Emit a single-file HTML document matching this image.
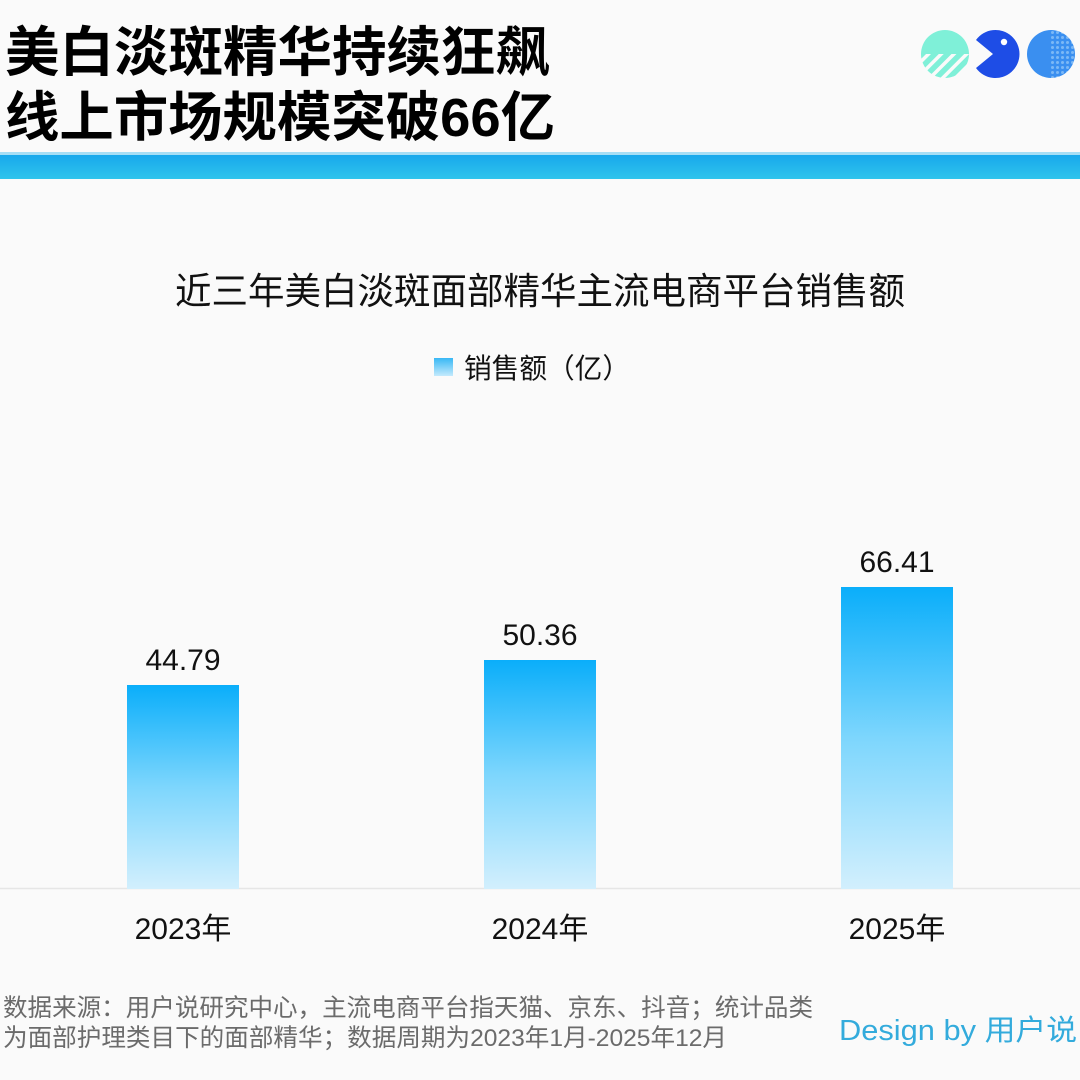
<!DOCTYPE html>
<html>
<head>
<meta charset="utf-8">
<style>
  html,body{margin:0;padding:0;background:#fafafa;}
  svg{display:block;}
  text{font-family:"Liberation Sans","Noto Sans CJK SC",sans-serif;}
</style>
</head>
<body>
<svg width="1080" height="1080" viewBox="0 0 1080 1080" xmlns="http://www.w3.org/2000/svg">
  <defs>
    <linearGradient id="bar" x1="0" y1="0" x2="0" y2="1">
      <stop offset="0" stop-color="#0aaefa"/>
      <stop offset="0.5" stop-color="#7dd6fd"/>
      <stop offset="1" stop-color="#d2effd"/>
    </linearGradient>
    <linearGradient id="leg" x1="0" y1="0" x2="0" y2="1">
      <stop offset="0" stop-color="#38b8f5"/>
      <stop offset="1" stop-color="#c4eafc"/>
    </linearGradient>
    <linearGradient id="band" x1="0" y1="0" x2="0" y2="1">
      <stop offset="0" stop-color="#17a8ec"/>
      <stop offset="1" stop-color="#2fc4ec"/>
    </linearGradient>
    <pattern id="stripes" width="9" height="9" patternUnits="userSpaceOnUse" patternTransform="rotate(45)">
      <rect width="9" height="9" fill="#7ff0d8"/>
      <rect x="0" y="0" width="3.5" height="9" fill="#fafafa"/>
    </pattern>
    <pattern id="dots" width="5" height="5" patternUnits="userSpaceOnUse">
      <rect width="5" height="5" fill="#3a8ff0"/>
      <circle cx="2.5" cy="2.5" r="1.5" fill="#7cb8f6"/>
    </pattern>
    <clipPath id="c1"><circle cx="945" cy="54" r="24"/></clipPath>
    <clipPath id="c3"><circle cx="1051" cy="54" r="24"/></clipPath>
  </defs>

  <rect width="1080" height="1080" fill="#fafafa"/>

  <!-- Header title -->
  <text x="5" y="71" font-size="54" font-weight="bold" fill="#000" textLength="545" lengthAdjust="spacingAndGlyphs">美白淡斑精华持续狂飙</text>
  <text x="5" y="136" font-size="54" font-weight="bold" fill="#000" textLength="550" lengthAdjust="spacingAndGlyphs">线上市场规模突破66亿</text>

  <!-- Icons -->
  <g clip-path="url(#c1)">
    <rect x="920" y="29" width="50" height="25" fill="#7ff0d8"/>
    <rect x="920" y="54" width="50" height="26" fill="url(#stripes)"/>
  </g>
  <path d="M993,54 L976,40 A24,24 0 1,1 976,68 Z" fill="#1e4de6"/>
  <circle cx="1004" cy="42" r="3.2" fill="#fff"/>
  <g clip-path="url(#c3)">
    <rect x="1026" y="29" width="25" height="50" fill="#3a8ff0"/>
    <rect x="1051" y="29" width="26" height="50" fill="url(#dots)"/>
  </g>

  <!-- Band -->
  <rect x="0" y="152" width="1080" height="3" fill="#a6def5"/>
  <rect x="0" y="155" width="1080" height="24" fill="url(#band)"/>

  <!-- Chart title -->
  <text x="175" y="304" font-size="37" fill="#111" textLength="730" lengthAdjust="spacingAndGlyphs">近三年美白淡斑面部精华主流电商平台销售额</text>

  <!-- Legend -->
  <rect x="434" y="358" width="19" height="18" fill="url(#leg)"/>
  <text x="464" y="378" font-size="28" fill="#111" textLength="166" lengthAdjust="spacingAndGlyphs">销售额（亿）</text>

  <!-- Axis line -->
  <line x1="0" y1="888.5" x2="1080" y2="888.5" stroke="#e6e6e6" stroke-width="1.5"/>

  <!-- Bars -->
  <rect x="127" y="685" width="112" height="204" fill="url(#bar)"/>
  <rect x="484" y="660" width="112" height="229" fill="url(#bar)"/>
  <rect x="841" y="587" width="112" height="302" fill="url(#bar)"/>

  <!-- Value labels -->
  <text x="183" y="670" font-size="30" text-anchor="middle" fill="#111">44.79</text>
  <text x="540" y="645" font-size="30" text-anchor="middle" fill="#111">50.36</text>
  <text x="897" y="572" font-size="30" text-anchor="middle" fill="#111">66.41</text>

  <!-- Category labels -->
  <text x="183" y="939" font-size="30" text-anchor="middle" fill="#111">2023年</text>
  <text x="540" y="939" font-size="30" text-anchor="middle" fill="#111">2024年</text>
  <text x="897" y="939" font-size="30" text-anchor="middle" fill="#111">2025年</text>

  <!-- Footer -->
  <text x="3" y="1016" font-size="24.5" fill="#6b6b6b" textLength="810" lengthAdjust="spacingAndGlyphs">数据来源：用户说研究中心，主流电商平台指天猫、京东、抖音；统计品类</text>
  <text x="3" y="1046" font-size="24.5" fill="#6b6b6b" textLength="724" lengthAdjust="spacingAndGlyphs">为面部护理类目下的面部精华；数据周期为2023年1月-2025年12月</text>
  <text x="839" y="1040" font-size="29" fill="#33abdc" textLength="238" lengthAdjust="spacingAndGlyphs">Design by 用户说</text>
</svg>
</body>
</html>
